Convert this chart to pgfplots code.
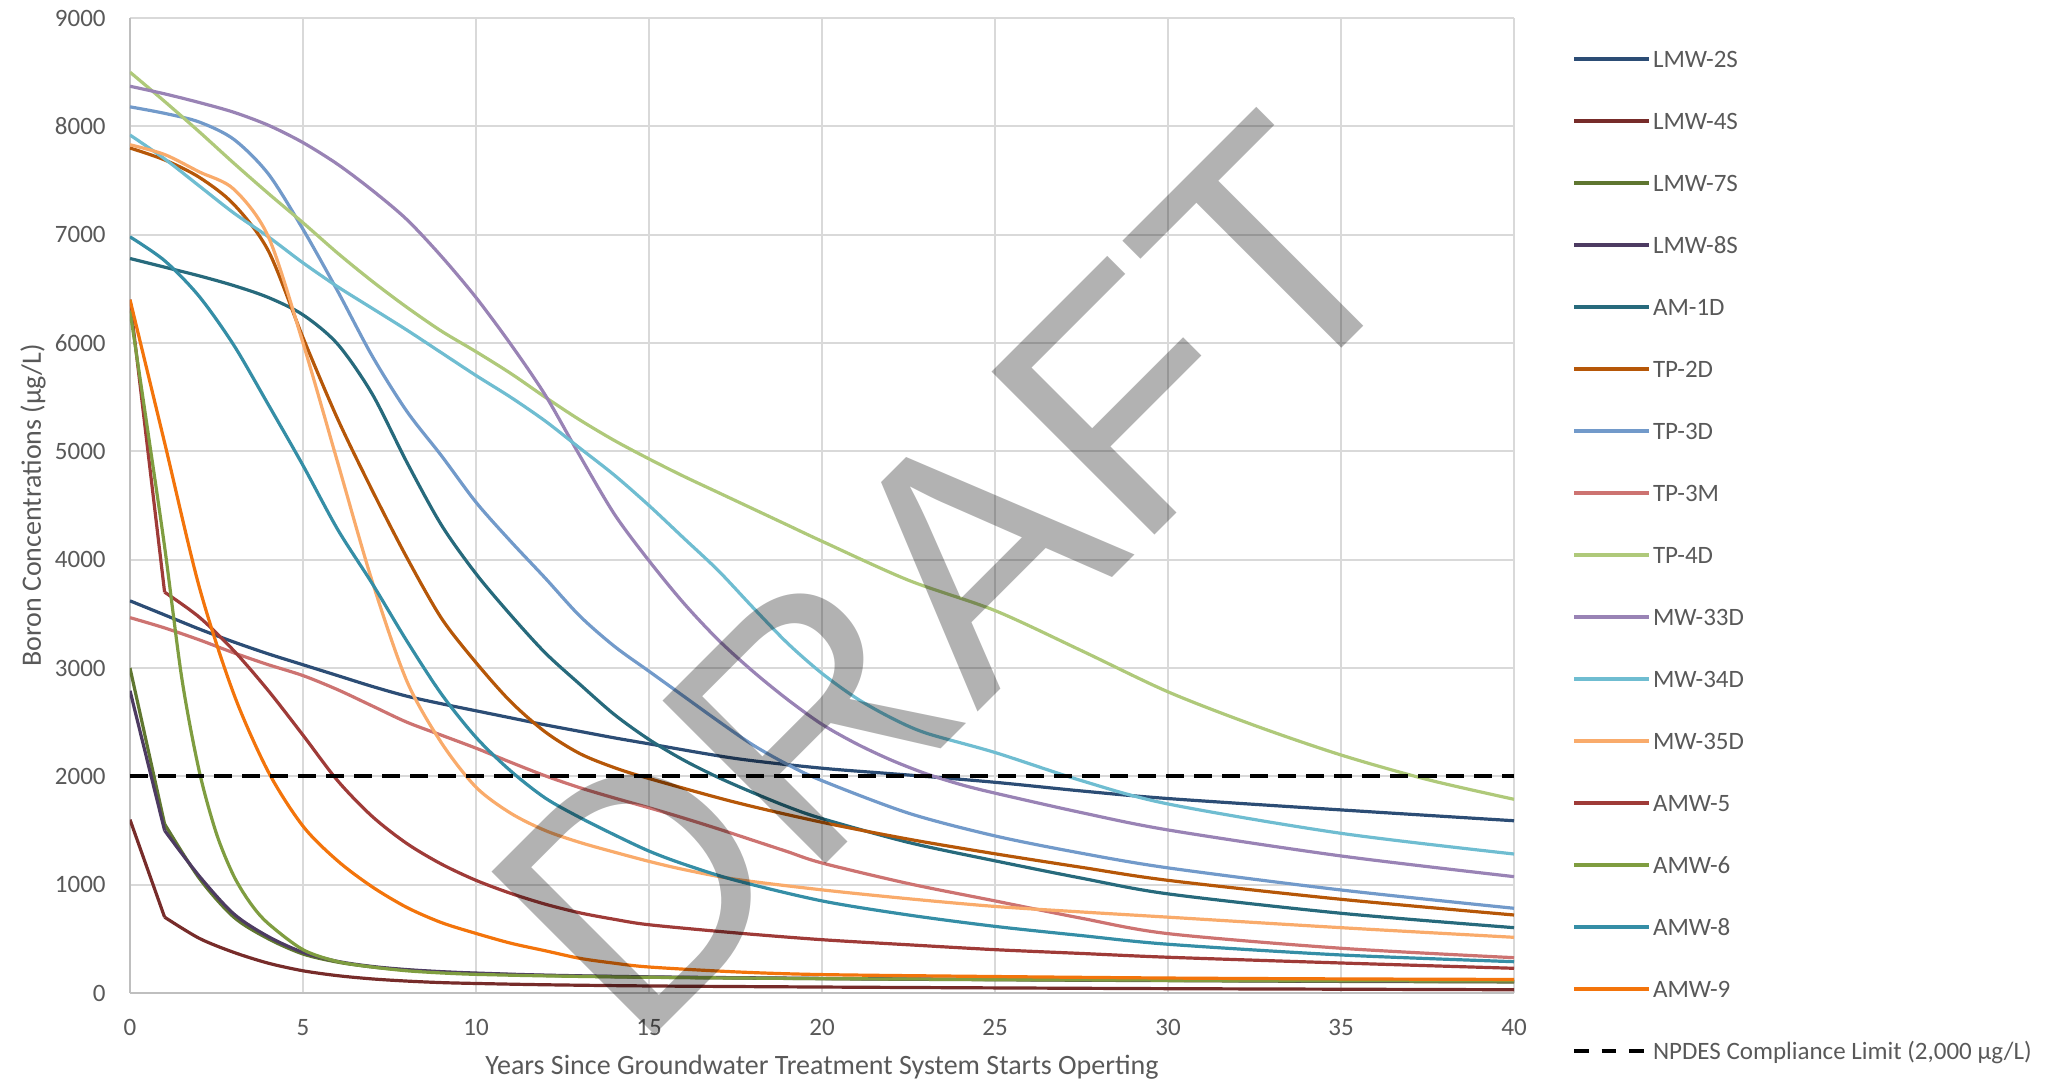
\documentclass[border=0pt]{standalone}
\usepackage{fontspec}
\setmainfont{Carlito}
\newfontfamily\wmfont{Liberation Sans}
\usepackage{pgfplots}
\pgfplotsset{compat=1.18}
\definecolor{txt}{HTML}{595959}
\definecolor{gridc}{HTML}{D9D9D9}
\definecolor{axc}{HTML}{BFBFBF}
\definecolor{cA}{HTML}{2C4D75}
\definecolor{cB}{HTML}{772C2A}
\definecolor{cC}{HTML}{5F7630}
\definecolor{cD}{HTML}{4D3B62}
\definecolor{cE}{HTML}{276A7C}
\definecolor{cF}{HTML}{B65708}
\definecolor{cG}{HTML}{729ACA}
\definecolor{cH}{HTML}{CD7371}
\definecolor{cI}{HTML}{AFC97A}
\definecolor{cJ}{HTML}{9983B5}
\definecolor{cK}{HTML}{6FBDD1}
\definecolor{cL}{HTML}{F9AB6B}
\definecolor{cM}{HTML}{9F3B38}
\definecolor{cN}{HTML}{7F9D40}
\definecolor{cO}{HTML}{358EA6}
\definecolor{cP}{HTML}{F3740B}
\begin{document}
\begin{tikzpicture}
\useasboundingbox (0,0) rectangle (1022.5pt,540.5pt);
\begin{axis}[
  scale only axis, width=692pt, height=487.5pt,
  at={(65pt,44pt)}, anchor=south west,
  xmin=0, xmax=40, ymin=0, ymax=9000,
  xtick={0,5,...,40}, ytick={0,1000,...,9000},
  grid=major, grid style={color=gridc, line width=1pt},
  axis x line*=bottom, axis y line*=left,
  axis line style={color=axc, line width=1pt, -},
  major tick length=0pt,
  tick label style={font=\fontsize{12.5}{15}\selectfont, text=txt, inner sep=0pt},
  /pgf/number format/assume math mode=true,
  /pgf/number format/1000 sep={},
  scaled y ticks=false,
  xticklabel style={anchor=north, yshift=-13pt},
  yticklabel style={anchor=east, xshift=-12pt},
  xlabel={Years Since Groundwater Treatment System Starts Operting},
  ylabel={Boron Concentrations (µg/L)},
  every axis x label/.style={at={(axis description cs:0.5,-0.0836)}, anchor=base,
    font=\fontsize{14}{17}\selectfont, text=txt},
  every axis y label/.style={at={(axis description cs:-0.0701,0.5)}, rotate=90, anchor=center,
    font=\fontsize{14}{17}\selectfont, text=txt},
  legend style={at={(axis description cs:1.04191,0.96615)}, anchor=north west,
    draw=none, fill=none, inner sep=0pt, outer sep=0pt,
    row sep=23.0pt, column sep=1pt,
    font=\fontsize{12.5}{15}\selectfont, text=txt,
    nodes={inner sep=0pt, text height=8pt, text depth=0pt}},
  legend cell align=left,
  legend image code/.code={\draw[#1, line width=2pt] (0pt,0pt) -- (37.5pt,0pt);},
  every axis plot/.append style={line width=1.6pt, smooth, tension=0.5},
]
% LMW-2S
\addplot[cA] coordinates {(0,3620) (1,3490) (2,3360) (3,3240) (4,3130) (5,3030) (6,2930) (7,2830) (8,2740) (9,2670) (10,2605) (11,2540) (12,2475) (13,2415) (14,2355) (15,2300) (17.5,2165) (20,2075) (22.5,2012) (25,1945) (27.5,1865) (30,1795) (35,1690) (40,1590)};
\addlegendentry{LMW-2S}
% LMW-4S (steep first year drawn straight)
\addplot[cB, sharp plot, forget plot] coordinates {(0,1600) (1,700)};
\addplot[cB] coordinates {(1,700) (2,505) (3,375) (4,275) (5,205) (6,160) (7,130) (8,110) (9,96) (10,88) (12,76) (15,65) (20,55) (25,47) (30,40) (35,35) (40,30)};
\addlegendentry{LMW-4S}
% LMW-7S
\addplot[cC, sharp plot, forget plot] coordinates {(0,3000) (1,1560)};
\addplot[cC] coordinates {(1,1560) (2,1060) (3,700) (4,500) (5,360) (6,285) (7,240) (8,212) (9,193) (10,180) (12,162) (15,146) (20,132) (25,122) (30,114) (35,107) (40,102)};
\addlegendentry{LMW-7S}
% LMW-8S
\addplot[cD, sharp plot, forget plot] coordinates {(0,2790) (1,1500)};
\addplot[cD] coordinates {(1,1500) (2,1080) (3,730) (4,520) (5,375) (6,292) (7,245) (8,216) (9,197) (10,184) (12,165) (15,149) (20,135) (25,125) (30,117) (35,110) (40,105)};
\addlegendentry{LMW-8S}
% AM-1D
\addplot[cE] coordinates {(0,6780) (1,6700) (2,6620) (3,6530) (4,6420) (5,6260) (6,5990) (7,5530) (8,4900) (9,4320) (10,3870) (11,3490) (12,3140) (13,2850) (14,2570) (15,2340) (16,2150) (17,1990) (18,1850) (19,1720) (20,1610) (22.5,1390) (25,1220) (27.5,1060) (30,915) (35,736) (40,603)};
\addlegendentry{AM-1D}
% TP-2D
\addplot[cF] coordinates {(0,7800) (1,7690) (2,7530) (3,7280) (4,6850) (5,6050) (6,5300) (7,4640) (8,4020) (9,3460) (10,3050) (11,2690) (12,2410) (13,2210) (14,2080) (15,1980) (17.5,1760) (20,1576) (22.5,1420) (25,1285) (27.5,1160) (30,1040) (35,865) (40,720)};
\addlegendentry{TP-2D}
% TP-3D
\addplot[cG] coordinates {(0,8180) (1,8120) (2,8040) (3,7880) (4,7560) (5,7050) (6,6480) (7,5880) (8,5370) (9,4960) (10,4530) (11,4170) (12,3830) (13,3480) (14,3200) (15,2970) (16,2740) (17,2510) (18,2290) (19,2110) (20,1960) (22.5,1660) (25,1450) (27.5,1290) (30,1155) (35,951) (40,782)};
\addlegendentry{TP-3D}
% TP-3M
\addplot[cH] coordinates {(0,3465) (1,3370) (2,3260) (3,3140) (4,3030) (5,2930) (6,2800) (7,2650) (8,2500) (9,2380) (10,2260) (11,2130) (12,2005) (13,1895) (14,1800) (15,1710) (16,1615) (17,1515) (18,1410) (19,1305) (20,1200) (22.5,1010) (25,850) (27.5,690) (30,548) (35,413) (40,326)};
\addlegendentry{TP-3M}
% TP-4D
\addplot[cI] coordinates {(0,8500) (1,8230) (2,7950) (3,7660) (4,7380) (5,7110) (6,6830) (7,6570) (8,6330) (9,6110) (10,5920) (11,5720) (12,5500) (13,5290) (14,5100) (15,4930) (16,4770) (17,4620) (18,4470) (19,4320) (20,4170) (22.5,3810) (25,3530) (27.5,3160) (30,2780) (32.5,2470) (35,2197) (37.5,1970) (40,1788)};
\addlegendentry{TP-4D}
% MW-33D
\addplot[cJ] coordinates {(0,8370) (1,8300) (2,8220) (3,8130) (4,8010) (5,7850) (6,7650) (7,7410) (8,7140) (9,6800) (10,6420) (11,5990) (12,5520) (13,4960) (14,4420) (15,3990) (16,3600) (17,3260) (18,2970) (19,2710) (20,2480) (21,2300) (22,2150) (23,2025) (24,1925) (25,1845) (27.5,1665) (30,1505) (35,1265) (40,1074)};
\addlegendentry{MW-33D}
% MW-34D
\addplot[cK] coordinates {(0,7920) (1,7700) (2,7450) (3,7200) (4,6980) (5,6740) (6,6520) (7,6320) (8,6120) (9,5910) (10,5700) (11,5500) (12,5280) (13,5030) (14,4780) (15,4500) (16,4200) (17,3900) (18,3560) (19,3230) (20,2950) (21,2720) (22,2540) (23,2400) (25,2220) (27.5,1960) (30,1745) (35,1474) (40,1283)};
\addlegendentry{MW-34D}
% MW-35D
\addplot[cL] coordinates {(0,7830) (1,7740) (2,7580) (3,7420) (4,6980) (5,6000) (6,4900) (7,3800) (8,2880) (9,2310) (10,1900) (11,1660) (12,1500) (13,1390) (14,1300) (15,1215) (16,1140) (17.5,1050) (20,952) (22.5,870) (25,799) (27.5,748) (30,700) (35,603) (40,514)};
\addlegendentry{MW-35D}
% AMW-5
\addplot[cM, sharp plot, forget plot] coordinates {(0,6400) (1,3700)};
\addplot[cM] coordinates {(1,3700) (2,3470) (3,3160) (4,2790) (5,2380) (6,1960) (7,1630) (8,1380) (9,1190) (10,1040) (11,920) (12,820) (13,740) (14,680) (15,630) (17.5,555) (20,492) (22.5,445) (25,400) (27.5,365) (30,330) (35,277) (40,228)};
\addlegendentry{AMW-5}
% AMW-6
\addplot[cN] coordinates {(0,6300) (0.5,5220) (1,4120) (1.5,2900) (2,2050) (2.5,1470) (3,1080) (3.5,820) (4,640) (5,400) (6,290) (7,240) (8,205) (9,185) (10,172) (12,158) (15,145) (20,133) (25,125) (30,118) (35,113) (40,110)};
\addlegendentry{AMW-6}
% AMW-8
\addplot[cO] coordinates {(0,6980) (1,6760) (2,6430) (3,5980) (4,5430) (5,4870) (6,4280) (7,3780) (8,3250) (9,2760) (10,2360) (11,2050) (12,1800) (13,1620) (14,1460) (15,1310) (16,1190) (17.5,1040) (20,850) (22.5,720) (25,615) (27.5,530) (30,450) (35,351) (40,289)};
\addlegendentry{AMW-8}
% AMW-9
\addplot[cP] coordinates {(0,6400) (1,5080) (2,3750) (3,2760) (4,2040) (5,1540) (6,1220) (7,980) (8,790) (9,650) (10,550) (11,460) (12,390) (13,320) (14,275) (15,240) (17.5,195) (20,170) (25,152) (30,138) (35,130) (40,125)};
\addlegendentry{AMW-9}
% NPDES limit
\addplot[black, line width=2pt, dash pattern=on 9pt off 5pt, forget plot] coordinates {(0,2000) (40,2000)};
\addlegendimage{black, dash pattern=on 7.3pt off 6.5pt}
\addlegendentry{NPDES Compliance Limit (2,000 µg/L)}
\end{axis}
\node[rotate=45, anchor=base west, inner sep=0pt, text=black, text opacity=0.3,
  font=\wmfont\fontsize{167.5}{170}\selectfont] at (317.5pt,13pt) {DRAFT};
\end{tikzpicture}
\end{document}
